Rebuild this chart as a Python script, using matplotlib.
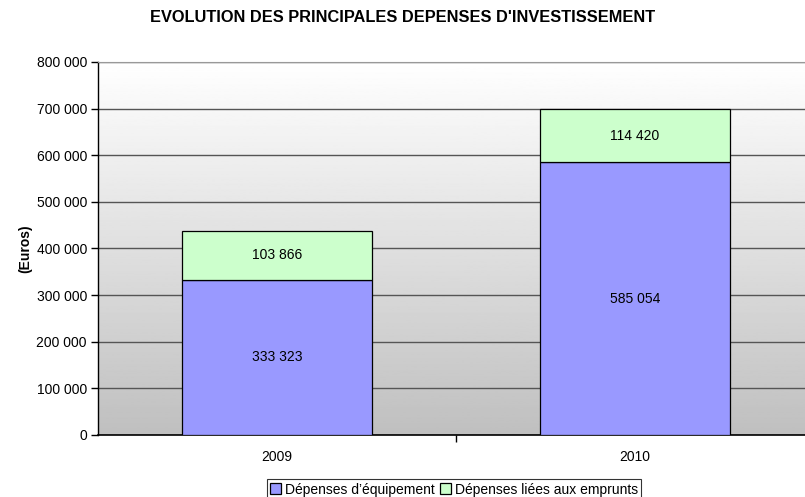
import numpy as np
import matplotlib.pyplot as plt
from matplotlib.ticker import FuncFormatter

plt.rcParams['font.family'] = ['Liberation Sans', 'DejaVu Sans']

# data
annees = ['2009', '2010']
equipement = [333323, 585054]
emprunts = [103866, 114420]

fig = plt.figure(figsize=(8.05, 4.97), dpi=100)
ax = fig.add_axes([98 / 805, 1 - 435 / 497, 716 / 805, 373 / 497])

# gradient background white -> gray
grad = np.linspace(1.0, 0.75, 256).reshape(-1, 1)
ax.imshow(grad, cmap='gray', vmin=0, vmax=1, aspect='auto',
          extent=[0, 1, 0, 1], transform=ax.transAxes, zorder=0)

x = np.arange(len(annees))
w = 0.53
b1 = ax.bar(x, equipement, w, color='#9999FF', edgecolor='black', linewidth=0.9,
            label="Dépenses d’équipement", zorder=3)
b2 = ax.bar(x, emprunts, w, bottom=equipement, color='#CCFFCC', edgecolor='black',
            linewidth=0.9, label='Dépenses liées aux emprunts', zorder=3)

fmt = lambda v: f'{int(v):,}'.replace(',', ' ')
for i in range(len(annees)):
    ax.text(x[i], equipement[i] / 2, fmt(equipement[i]), ha='center', va='center',
            fontsize=10, zorder=4)
    ax.text(x[i], equipement[i] + emprunts[i] / 2, fmt(emprunts[i]), ha='center',
            va='center', fontsize=10, zorder=4)

ax.set_xlim(-0.5, 1.5)
ax.set_ylim(0, 800000)
ax.set_yticks(np.arange(0, 800001, 100000))
ax.yaxis.set_major_formatter(FuncFormatter(lambda v, p: fmt(v)))
ax.yaxis.grid(True, color='#555555', linewidth=1.0, zorder=1)
ax.set_axisbelow(True)

ax.set_xticks(x)
ax.set_xticklabels(annees)
ax.set_xticks([0.5], minor=True)
ax.tick_params(axis='x', which='major', length=0, pad=11, labelsize=10)
ax.tick_params(axis='x', which='minor', length=5, width=1, direction='out')
ax.tick_params(axis='y', length=5, width=1, direction='out', labelsize=10, pad=3)

for s in ['top', 'right']:
    ax.spines[s].set_color('#999999')
ax.spines['left'].set_linewidth(1)
ax.spines['bottom'].set_linewidth(1.2)

ax.set_ylabel('(Euros)', fontsize=10, fontweight='bold', labelpad=3)

fig.suptitle("EVOLUTION DES PRINCIPALES DEPENSES D'INVESTISSEMENT", x=0.5, y=1 - 17 / 497,
             va='center', fontsize=11.8, fontweight='bold')

leg = fig.legend(handles=[b1, b2], loc='lower center', bbox_to_anchor=(454 / 805, -0.006),
                 ncol=2, fontsize=10, frameon=True, fancybox=False, edgecolor='black',
                 handlelength=0.8, handleheight=0.8, handletextpad=0.25,
                 columnspacing=0.4, borderpad=0.25, borderaxespad=0)
leg.get_frame().set_linewidth(0.8)

fig.savefig('out.png', dpi=100)
